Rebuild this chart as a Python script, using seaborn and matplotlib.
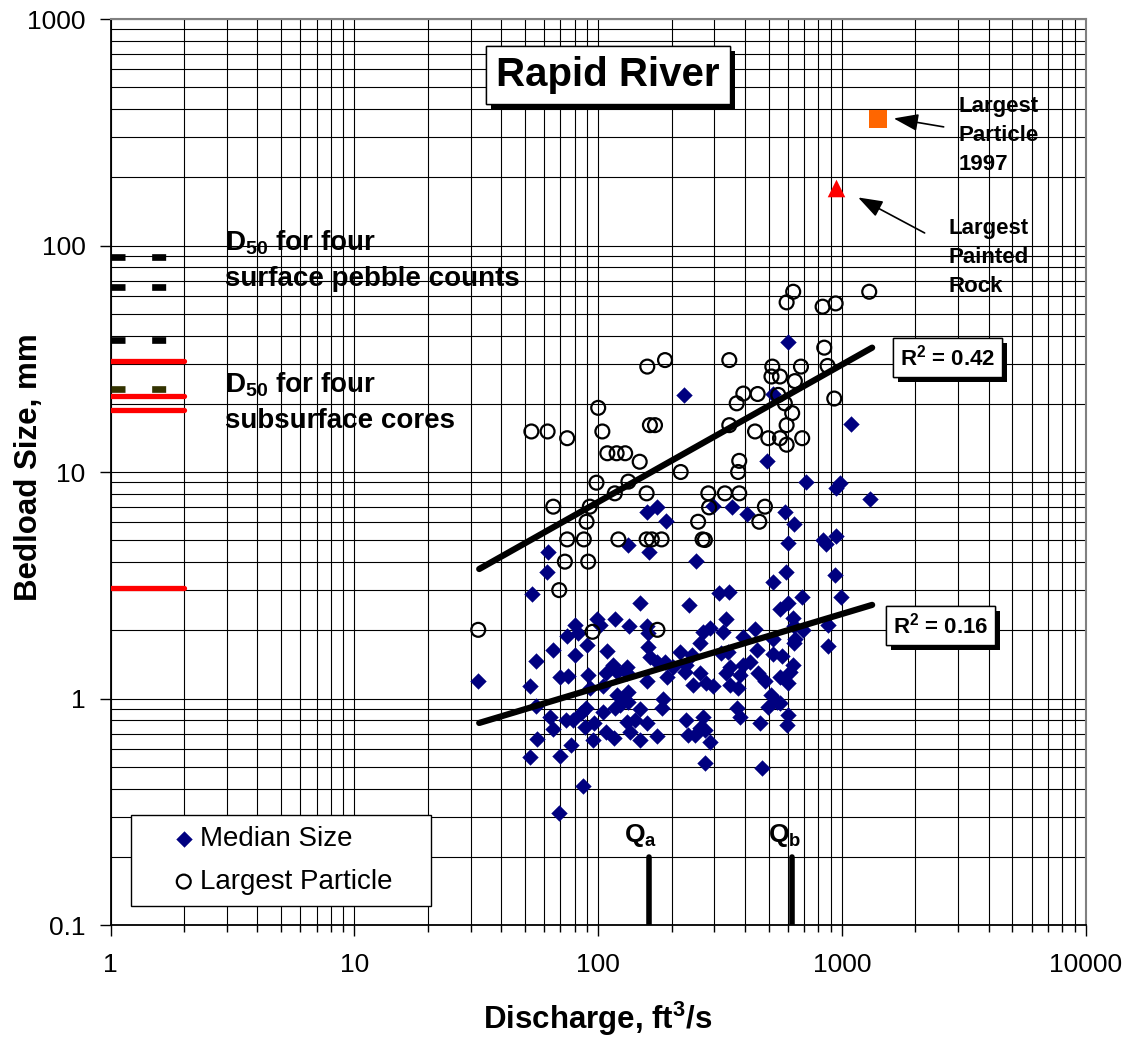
import numpy as np
import matplotlib
matplotlib.use("Agg")
import matplotlib.pyplot as plt
import matplotlib.patheffects as pe
from matplotlib.ticker import LogLocator, FuncFormatter, NullFormatter
import seaborn as sns
import pandas as pd

# --- data ----------------------------------------------------------------
median_q = [598, 225, 1089, 491, 523, 709, 981, 945, 1302, 158, 175, 189, 133, 162, 62.3, 61.7, 53.6,
            148, 236, 253, 296, 353, 406, 583, 637, 598, 833, 859, 945, 589, 519, 936, 990, 683, 602,
            557, 314, 345, 99.1, 102, 117, 134, 158, 160, 80.2, 82.8, 74.6, 90.1, 65.0, 80.2, 109, 55.5,
            160, 163, 174, 115, 131, 216, 242, 230, 261, 268, 287, 326, 336, 318, 342, 394, 440, 449,
            519, 523, 565, 631, 637, 694, 637, 641, 631, 879, 873, 394, 419, 347, 188, 203,
            32.2, 52.4, 69.6, 75.3, 91.0, 92.4, 105, 108, 119, 131, 133, 158, 191, 227, 245, 261, 278,
            296, 336, 347, 375, 381, 454, 483, 557, 602, 612, 55.5, 119, 127, 133, 123, 117, 105, 89.0,
            85.4, 148, 182, 185, 370, 514, 539, 498, 557, 63.3, 65.4, 56.2, 74.1, 79.0, 88.2, 96.0,
            95.4, 108, 116, 131, 135, 141, 148, 158, 174, 230, 234, 249, 270, 274, 261, 287, 381, 461,
            602, 593, 77.7, 52.4, 69.6, 274, 468, 86.8, 69.0]
median_d = [37.6, 21.9, 16.3, 11.2, 22.1, 9.0, 8.91, 8.47, 7.60, 6.68, 6.98, 6.08, 4.76, 4.45, 4.45, 3.63, 2.89,
            2.63, 2.59, 4.05, 7.08, 6.98, 6.50, 6.68, 5.89, 4.84, 5.01, 4.81, 5.22, 3.63, 3.28, 3.51, 2.80, 2.80, 2.63,
            2.48, 2.91, 2.96, 2.24, 2.11, 2.24, 2.08, 2.08, 1.94, 2.11, 1.94, 1.89, 1.72, 1.64, 1.56, 1.62, 1.46,
            1.69, 1.53, 1.45, 1.41, 1.38, 1.61, 1.56, 1.41, 1.75, 1.97, 2.04, 1.96, 2.24, 1.59, 1.61, 1.87, 2.02, 1.64,
            1.83, 1.58, 1.54, 2.27, 2.08, 2.01, 1.75, 1.84, 1.41, 2.11, 1.71, 1.41, 1.45, 1.38, 1.45, 1.38,
            1.19, 1.14, 1.25, 1.26, 1.27, 1.11, 1.13, 1.30, 1.31, 1.29, 1.07, 1.19, 1.25, 1.31, 1.15, 1.29, 1.17,
            1.13, 1.29, 1.15, 1.11, 1.27, 1.29, 1.19, 1.25, 1.17, 1.31, 0.93, 1.04, 1.00, 0.97, 0.94, 0.905, 0.869, 0.91,
            0.86, 0.896, 0.91, 0.99, 0.905, 1.04, 0.97, 0.92, 0.96, 0.831, 0.731, 0.663, 0.804, 0.804, 0.751, 0.777,
            0.656, 0.714, 0.667, 0.79, 0.714, 0.804, 0.656, 0.777, 0.683, 0.804, 0.69, 0.69, 0.831, 0.726, 0.739, 0.645, 0.831, 0.777,
            0.846, 0.764, 0.623, 0.55, 0.559, 0.521, 0.491, 0.412, 0.311]

largest_q = [631, 593, 833, 942, 1294, 846, 873, 930, 159, 188, 345, 518, 679, 514, 557, 641, 394, 451,
             370, 548, 583, 625, 593, 345, 440, 499, 557, 593, 687, 100, 104, 53.2, 62.0, 74.6, 163, 171,
             109, 119, 129, 148, 379, 218, 375, 98.4, 133, 117, 158, 65.4, 92.4, 89.6, 74.6, 87.3, 121,
             158, 166, 182, 73.0, 91.0, 69.2, 32.2, 94.8, 175, 283, 331, 379, 285, 257, 268, 274, 483, 458]
largest_d = [62.5, 56.1, 53.7, 55.5, 62.5, 35.4, 29.4, 21.1, 29.2, 31.2, 31.2, 29.2, 29.2, 26.4, 26.4, 25.2, 22.2, 22.1,
             20.1, 21.9, 20.1, 18.2, 16.1, 16.1, 15.1, 14.1, 14.1, 13.2, 14.1, 19.2, 15.1, 15.1, 15.1, 14.1, 16.1, 16.1,
             12.1, 12.1, 12.1, 11.1, 11.2, 10.0, 10.0, 8.97, 9.07, 8.05, 8.05, 7.03, 7.03, 6.03, 5.04, 5.04, 5.04,
             5.04, 5.04, 5.04, 4.02, 4.02, 3.01, 2.01, 1.97, 2.01, 8.05, 8.05, 8.05, 6.98, 6.03, 5.04, 5.01, 7.03, 6.03]

# power-law trend lines (end points)
trend_q = [32.5, 1330]
trend_largest = [3.73, 35.4]
trend_median = [0.78, 2.59]

# D50 reference lines drawn between Q = 1 and Q = 2
d50_q = [1, 2]
surface_d50 = [88.7, 65.4, 38.1, 23.2]
surface_colors = ["black", "black", "black", "#333300"]
subsurface_d50 = [31.0, 21.7, 18.8, 3.07]

# characteristic discharges
q_a, q_b = 162, 626
q_mark_d = [0.1, 0.2]

largest_1997_q, largest_1997_d = [1408], [362]
painted_q, painted_d = [946], [180]

# --- style ------------------------------------------------------------------
sns.set_style("white")
plt.rcParams["font.family"] = ["Liberation Sans", "DejaVu Sans"]
plt.rcParams["mathtext.fontset"] = "custom"
plt.rcParams["mathtext.rm"] = "Liberation Sans"
plt.rcParams["mathtext.bf"] = "Liberation Sans:bold"
plt.rcParams["mathtext.it"] = "Liberation Sans:italic"
for key in ("text.color", "axes.labelcolor", "xtick.color", "ytick.color"):
    plt.rcParams[key] = "black"

fig = plt.figure(figsize=(11.3, 10.37), dpi=100)
ax = fig.add_axes([0.09796, 0.108, 0.86283, 0.87367])
ax.set_xscale("log")
ax.set_yscale("log")

# D50 lines
for d, c in zip(surface_d50, surface_colors):
    sns.lineplot(x=d50_q, y=[d, d], ax=ax, color=c, linewidth=4.8,
                 linestyle=(0, (2.1, 4.0)), dash_capstyle="butt", zorder=3, legend=False)
for d in subsurface_d50:
    sns.lineplot(x=d50_q, y=[d, d], ax=ax, color="#FF0000", linewidth=3.8,
                 solid_capstyle="round", zorder=3, legend=False)

# scatter series
sns.scatterplot(x=median_q, y=median_d, ax=ax, marker="D", s=64, color="#000080",
                edgecolor="#000080", linewidth=0.3, label="Median Size", zorder=4)
sns.scatterplot(x=largest_q, y=largest_d, ax=ax, marker="o", s=100, facecolors="none",
                edgecolors="black", linewidths=1.6, label="Largest Particle", zorder=5)

sns.scatterplot(x=largest_1997_q, y=largest_1997_d, ax=ax, marker="s", s=150,
                color="#FF6600", linewidth=0, zorder=6, legend=False)
sns.scatterplot(x=painted_q, y=painted_d, ax=ax, marker="^", s=160,
                color="#FF0000", linewidth=0, zorder=6, legend=False)

# trend lines
for yy in (trend_largest, trend_median):
    sns.lineplot(x=trend_q, y=yy, ax=ax, color="black", linewidth=4.5,
                 solid_capstyle="round", zorder=7, legend=False)

# Qa / Qb markers
for q in (q_a, q_b):
    sns.lineplot(x=[q, q], y=q_mark_d, ax=ax, color="black", linewidth=4,
                 solid_capstyle="round", zorder=7, legend=False, estimator=None, sort=False)

# --- axes ---------------------------------------------------------------------
ax.set_xlim(1, 10000)
ax.set_ylim(0.1, 1000)
fmt = FuncFormatter(lambda v, p: "{:g}".format(v))
for axis in (ax.xaxis, ax.yaxis):
    axis.set_major_locator(LogLocator(base=10, numticks=20))
    axis.set_minor_locator(LogLocator(base=10, subs=np.arange(2, 10), numticks=20))
    axis.set_major_formatter(fmt)
    axis.set_minor_formatter(NullFormatter())

ax.grid(True, which="both", color="black", linewidth=0.8)
ax.set_axisbelow(True)
ax.tick_params(axis="x", which="major", direction="out", length=8, width=1, labelsize=19, pad=12, bottom=True)
ax.tick_params(axis="x", which="minor", direction="out", length=5, width=1, bottom=True)
ax.tick_params(axis="y", which="major", direction="out", length=8, width=1, labelsize=19, pad=10, left=True)
ax.tick_params(axis="y", which="minor", length=0)
for sp in ("top", "right"):
    ax.spines[sp].set_color("#808080")
    ax.spines[sp].set_linewidth(1.5)
for sp in ("left", "bottom"):
    ax.spines[sp].set_color("black")
    ax.spines[sp].set_linewidth(1.3)

ax.set_xlabel(r"Discharge, ft$^{\mathbf{3}}$/s", fontsize=22.5, fontweight="bold")
ax.set_ylabel("Bedload Size, mm", fontsize=22.5, fontweight="bold")
ax.xaxis.set_label_coords(0.5, -0.082)
ax.yaxis.set_label_coords(-0.068, 0.5055)

# --- annotations ----------------------------------------------------------------
def boxed(x, y, s, size, pad):
    t = ax.text(x, y, s, transform=ax.transAxes, color="black", fontsize=size,
                fontweight="bold", ha="center", va="center", zorder=8,
                bbox=dict(boxstyle="square,pad=%s" % pad, fc="white", ec="black", lw=1))
    t.get_bbox_patch().set_path_effects([
        pe.withSimplePatchShadow(offset=(3.6, -3.6), shadow_rgbFace="black", alpha=1),
        pe.Normal()])

boxed(0.51, 0.938, "Rapid River", 29, 0.25)
boxed(0.858, 0.6264, r"R$^{\mathbf{2}}$ = 0.42", 16, 0.3)
boxed(0.851, 0.331, r"R$^{\mathbf{2}}$ = 0.16", 16, 0.3)

ax.text(0.1172, 0.7334, "D$_{\\mathbf{50}}$ for four\nsurface pebble counts", transform=ax.transAxes,
        fontsize=20, fontweight="bold", ha="left", va="center", linespacing=1.45)
ax.text(0.1172, 0.5773, "D$_{\\mathbf{50}}$ for four\nsubsurface cores", transform=ax.transAxes,
        fontsize=20, fontweight="bold", ha="left", va="center", linespacing=1.45)

ax.text(0.8696, 0.8714, "Largest\nParticle\n1997", transform=ax.transAxes,
        fontsize=16, fontweight="bold", ha="left", va="center", linespacing=1.5)
ax.text(0.8596, 0.7373, "Largest\nPainted\nRock", transform=ax.transAxes,
        fontsize=16, fontweight="bold", ha="left", va="center", linespacing=1.5)

arrow = dict(arrowstyle="-|>,head_length=1.0,head_width=0.35", color="black", lw=1.2,
             mutation_scale=15, shrinkA=0, shrinkB=0)
ax.annotate("", xy=(1630, 364), xytext=(2614, 334), arrowprops=arrow, zorder=8)
ax.annotate("", xy=(1165, 163), xytext=(2184, 113.6), arrowprops=arrow, zorder=8)

ax.text(0.543, 0.0993, "Q$_{\\mathbf{a}}$", transform=ax.transAxes, fontsize=19,
        fontweight="bold", ha="center", va="center")
ax.text(0.6916, 0.0993, "Q$_{\\mathbf{b}}$", transform=ax.transAxes, fontsize=19,
        fontweight="bold", ha="center", va="center")

leg = ax.legend(loc="lower left", bbox_to_anchor=(0.0208, 0.021, 0.3077, 0.106), mode="expand",
                fontsize=20, frameon=True, fancybox=False, framealpha=1, edgecolor="black",
                borderpad=0.4, labelspacing=0.6, handlelength=3.0, handletextpad=-0.9,
                borderaxespad=0)
leg.get_frame().set_linewidth(1)
leg.set_zorder(9)

fig.savefig("out.png", dpi=100)
